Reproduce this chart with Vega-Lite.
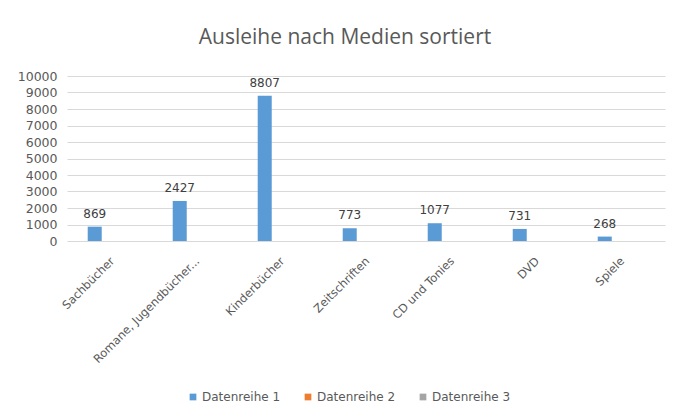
{
  "$schema": "https://vega.github.io/schema/vega-lite/v6.json",
  "width": 598,
  "height": 165,
  "autosize": "none",
  "padding": {"left": 67, "top": 76, "right": 15, "bottom": 176},
  "background": "white",
  "title": {
    "text": "Ausleihe nach Medien sortiert",
    "anchor": "middle",
    "dx": -21,
    "offset": 22,
    "font": "Open Sans",
    "fontSize": 21,
    "fontWeight": "normal",
    "color": "#595959"
  },
  "data": {
    "values": [
      {"kategorie": "Sachbücher", "wert": 869, "serie": "Datenreihe 1"},
      {"kategorie": "Romane, Jugendbücher...", "wert": 2427, "serie": "Datenreihe 1"},
      {"kategorie": "Kinderbücher", "wert": 8807, "serie": "Datenreihe 1"},
      {"kategorie": "Zeitschriften", "wert": 773, "serie": "Datenreihe 1"},
      {"kategorie": "CD und Tonies", "wert": 1077, "serie": "Datenreihe 1"},
      {"kategorie": "DVD", "wert": 731, "serie": "Datenreihe 1"},
      {"kategorie": "Spiele", "wert": 268, "serie": "Datenreihe 1"}
    ]
  },
  "encoding": {
    "x": {
      "field": "kategorie",
      "type": "nominal",
      "sort": null,
      "scale": {"paddingInner": 0.835, "paddingOuter": 0.435, "align": 0.28},
      "axis": {
        "title": null,
        "labelAngle": -45,
        "labelAlign": "right",
        "labelBaseline": "top",
        "labelFont": "DejaVu Sans",
        "labelFontSize": 11.5,
        "labelColor": "#595959",
        "labelPadding": 14,
        "labelOffset": 14,
        "labelLimit": 200,
        "ticks": false,
        "domain": false
      }
    },
    "y": {
      "field": "wert",
      "type": "quantitative",
      "scale": {"domain": [0, 10000]},
      "axis": {
        "title": null,
        "values": [0, 1000, 2000, 3000, 4000, 5000, 6000, 7000, 8000, 9000, 10000],
        "format": "d",
        "labelFont": "DejaVu Sans",
        "labelFontSize": 12.5,
        "labelColor": "#595959",
        "labelPadding": 10,
        "ticks": false,
        "domain": false,
        "gridColor": "#d9d9d9",
        "gridWidth": 1
      }
    }
  },
  "layer": [
    {
      "mark": {"type": "bar"},
      "encoding": {
        "color": {
          "field": "serie",
          "type": "nominal",
          "scale": {
            "domain": ["Datenreihe 1", "Datenreihe 2", "Datenreihe 3"],
            "range": ["#5B9BD5", "#ED7D31", "#A5A5A5"]
          },
          "legend": {
            "title": null,
            "orient": "none",
            "direction": "horizontal",
            "legendX": 120,
            "legendY": 315,
            "symbolType": "square",
            "symbolSize": 45,
            "symbolStrokeWidth": 0,
            "labelFont": "DejaVu Sans",
            "labelFontSize": 12,
            "labelColor": "#595959",
            "labelOffset": 3,
            "columnPadding": 21
          }
        }
      }
    },
    {
      "mark": {
        "type": "text",
        "baseline": "alphabetic",
        "dy": -9,
        "font": "DejaVu Sans",
        "fontSize": 12,
        "color": "#404040"
      },
      "encoding": {
        "text": {"field": "wert", "type": "quantitative", "format": "d"}
      }
    }
  ],
  "config": {
    "view": {"stroke": null}
  }
}
